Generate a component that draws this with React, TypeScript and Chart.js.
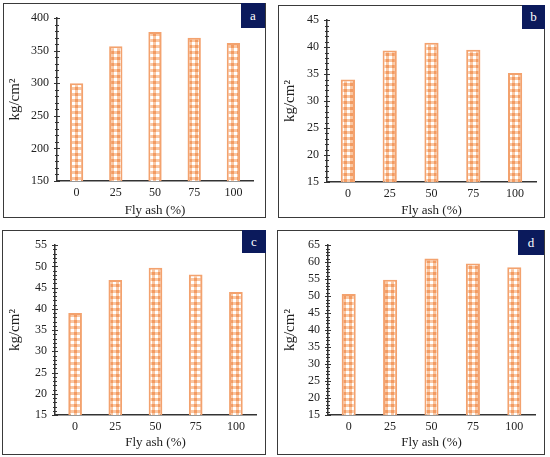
import { useEffect, useRef } from "react";
import { Chart, registerables } from "chart.js";

Chart.register(...registerables);

// data
const flyAsh = ["0", "25", "50", "75", "100"];
const valuesA = [300, 357, 379, 370, 362];
const valuesB = [34, 39.4, 40.8, 39.5, 35.2];
const valuesC = [39, 46.8, 49.7, 48.1, 44];
const valuesD = [50.6, 54.8, 61.1, 59.6, 58.5];

const letters = ["a", "b", "c", "d"];
const yMins = [150, 15, 15, 15];
const yMaxs = [400, 45, 55, 65];
const ySteps = [50, 5, 5, 5];
const yMinorSteps = [10, 1, 1, 1];

const xTitle = "Fly ash (%)";
const yTitle = "kg/cm²";

// page layout of each panel (px)
const layouts = [
  { box: [3, 3, 266, 218], axisX: 57, plotTop: 14, plotBottom: 181, plotRight: 253, xTitleY: 211, yTitleX: 15, tag: [241, 3, 24, 25] },
  { box: [278, 5, 545, 218], axisX: 327, plotTop: 17, plotBottom: 182, plotRight: 536, xTitleY: 211, yTitleX: 290, tag: [522, 5, 23, 24] },
  { box: [2, 230, 266, 455], axisX: 55, plotTop: 238, plotBottom: 415, plotRight: 256, xTitleY: 443, yTitleX: 15, tag: [242, 230, 24, 23] },
  { box: [277, 230, 545, 455], axisX: 328, plotTop: 244, plotBottom: 415, plotRight: 535, xTitleY: 443, yTitleX: 290, tag: [518, 230, 26, 25] },
];

const SERIF = "'Liberation Serif', 'Times New Roman', serif";
const BAR_EDGE = "#F3A26E";

function makePattern(): CanvasPattern | string {
  const tile = document.createElement("canvas");
  tile.width = 6;
  tile.height = 6;
  const c = tile.getContext("2d");
  if (!c) return "#F8C9A6";
  c.fillStyle = "#F9C7A3";
  c.fillRect(0, 0, 6, 6);
  c.fillStyle = "#F39B62";
  c.fillRect(0, 0, 3, 3);
  c.fillStyle = "#FFFFFF";
  c.fillRect(3, 3, 3, 3);
  const ctx = document.createElement("canvas").getContext("2d");
  return (ctx && ctx.createPattern(tile, "repeat")) || "#F8C9A6";
}

const minorTicks = {
  id: "minorTicks",
  afterDraw(chart: any, _args: any, opts: any) {
    const y = chart.scales.y;
    const ctx = chart.ctx;
    const x0 = y.right;
    ctx.save();
    ctx.strokeStyle = "#333";
    ctx.lineWidth = 1;
    for (let v = opts.min; v <= opts.max + 1e-9; v += opts.minor) {
      const py = Math.round(y.getPixelForValue(v)) + 0.5;
      const rel = (v - opts.min) / opts.step;
      const major = Math.abs(rel - Math.round(rel)) < 1e-6;
      const len = major ? 3 : 2;
      ctx.beginPath();
      ctx.moveTo(x0 - len, py);
      ctx.lineTo(x0 + len, py);
      ctx.stroke();
    }
    ctx.restore();
  },
};

interface PanelProps {
  index: number;
  values: number[];
}

const Panel = ({ index, values }: PanelProps) => {
  const canvasRef = useRef<HTMLCanvasElement>(null);
  const L = layouts[index];
  const [l, t, r, b] = L.box;
  const w = r - l;
  const h = b - t;

  useEffect(() => {
    if (!canvasRef.current) return;
    const yTitleFont = 15;
    const xTitleFont = 13;
    const chart = new Chart(canvasRef.current, {
      type: "bar",
      data: {
        labels: flyAsh,
        datasets: [
          {
            data: values,
            backgroundColor: makePattern() as any,
            borderColor: BAR_EDGE,
            borderWidth: 2,
            barPercentage: 1,
            categoryPercentage: 0.34,
          },
        ],
      },
      options: {
        responsive: false,
        animation: false,
        layout: { padding: { left: 0, top: L.plotTop - t, right: r - L.plotRight, bottom: 0 } },
        plugins: {
          legend: { display: false },
          tooltip: { enabled: false },
          minorTicks: { min: yMins[index], max: yMaxs[index], step: ySteps[index], minor: yMinorSteps[index] },
        } as any,
        scales: {
          x: {
            grid: { display: false, drawTicks: false },
            border: { display: true, color: "#333", width: 1.5 },
            ticks: { color: "#222", padding: 5, font: { family: SERIF, size: 12 } },
            title: {
              display: true,
              text: xTitle,
              color: "#222",
              font: { family: SERIF, size: xTitleFont },
              padding: { top: 0, bottom: Math.max(0, b - L.xTitleY - (xTitleFont * 1.2) / 2) },
            },
            afterFit: (s: any) => {
              s.height = b - L.plotBottom;
            },
          },
          y: {
            min: yMins[index],
            max: yMaxs[index],
            grid: { display: false, drawTicks: false },
            border: { display: true, color: "#333", width: 1.5 },
            ticks: {
              stepSize: ySteps[index],
              autoSkip: false,
              color: "#222",
              padding: 8,
              font: { family: SERIF, size: 12 },
            },
            title: {
              display: true,
              text: yTitle,
              color: "#222",
              font: { family: SERIF, size: yTitleFont },
              padding: { top: Math.max(0, L.yTitleX - l - (yTitleFont * 1.2) / 2), bottom: 0 },
            },
            afterFit: (s: any) => {
              s.width = L.axisX - l;
            },
          },
        },
      },
      plugins: [minorTicks],
    });
    return () => {
      chart.destroy();
    };
  }, [index, values]);

  const [tl, tt, tw, th] = L.tag;
  return (
    <>
      <div
        style={{
          position: "absolute",
          left: l,
          top: t,
          width: w,
          height: h,
          border: "1px solid #3a3a3a",
          boxSizing: "border-box",
        }}
      />
      <canvas ref={canvasRef} width={w} height={h} style={{ position: "absolute", left: l, top: t, width: w, height: h }} />
      <div
        style={{
          position: "absolute",
          left: tl,
          top: tt,
          width: tw,
          height: th,
          background: "#0B1A5C",
          color: "#fff",
          fontFamily: SERIF,
          fontSize: 13,
          lineHeight: th + "px",
          textAlign: "center",
        }}
      >
        {letters[index]}
      </div>
    </>
  );
};

export default function App() {
  useEffect(() => {
    document.body.style.margin = "0";
  }, []);
  return (
    <div style={{ position: "relative", width: 550, height: 457, background: "#fff", overflow: "hidden" }}>
      <Panel index={0} values={valuesA} />
      <Panel index={1} values={valuesB} />
      <Panel index={2} values={valuesC} />
      <Panel index={3} values={valuesD} />
    </div>
  );
}
